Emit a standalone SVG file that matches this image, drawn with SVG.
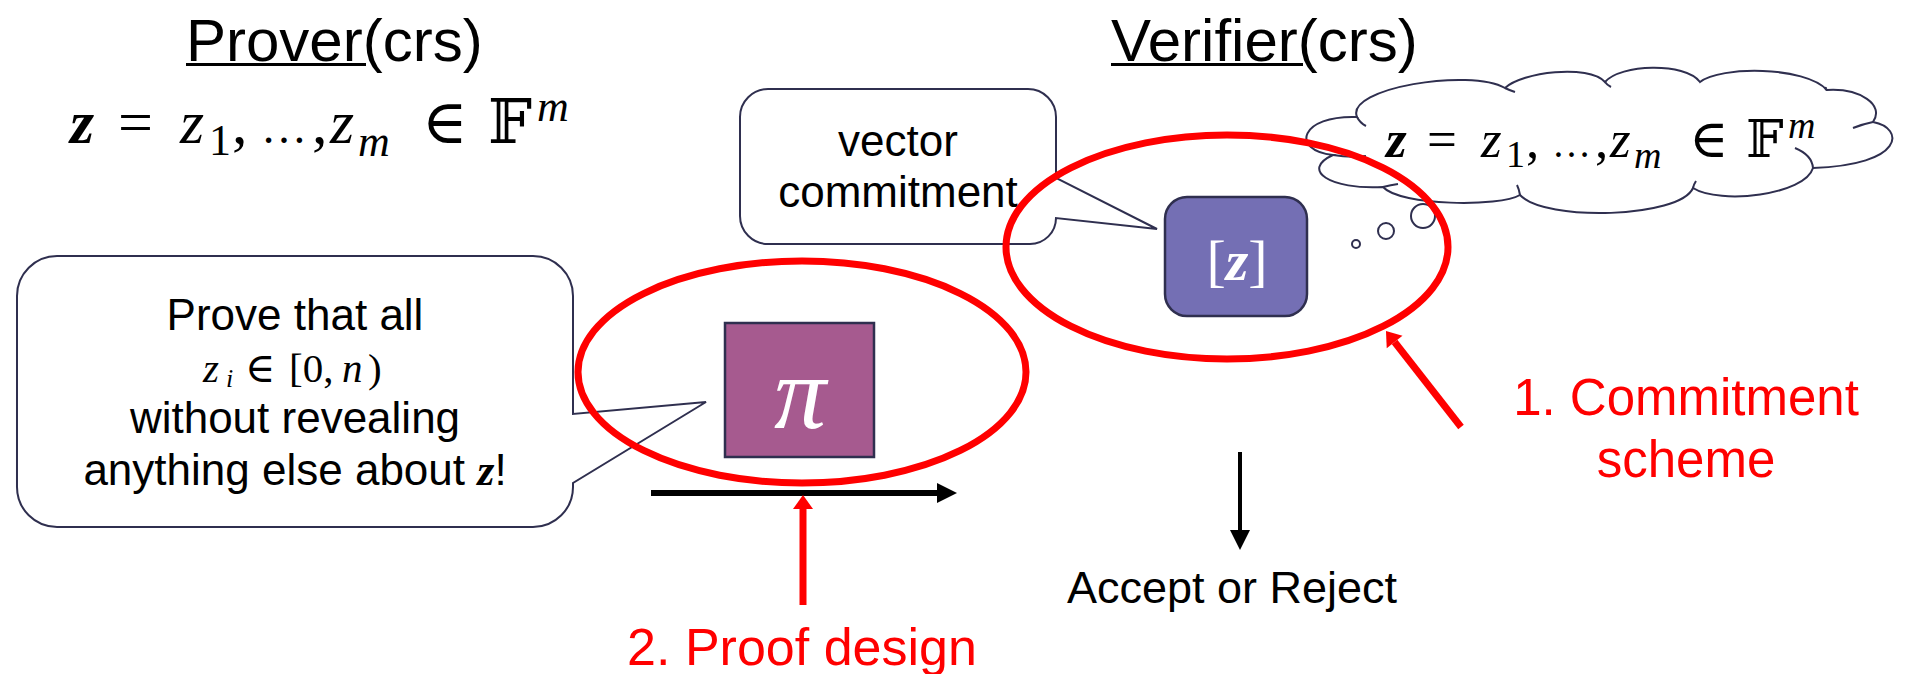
<svg xmlns="http://www.w3.org/2000/svg" width="1906" height="674" viewBox="0 0 1906 674">
<style>
.sans{font-family:"Liberation Sans",Arial,sans-serif;fill:#000}
.math{font-family:"Liberation Serif","DejaVu Serif",serif;font-style:italic;fill:#000}
.up{font-style:normal}
.red{fill:#ff0000}
.outline{fill:#fff;stroke:#2f2f4f;stroke-width:2}
.hook{fill:none;stroke:#2f2f4f;stroke-width:2}
.ring{fill:none;stroke:#ff0000;stroke-width:7}
</style>
<defs>
<marker id="hb" markerUnits="userSpaceOnUse" markerWidth="20" markerHeight="20" refX="0" refY="10" orient="auto" viewBox="0 0 20 20" overflow="visible"><path d="M0,0 L20,10 L0,20 Z" fill="#000"/></marker>
<marker id="hr" markerUnits="userSpaceOnUse" markerWidth="14" markerHeight="20" refX="0" refY="10" orient="auto" viewBox="0 0 14 20" overflow="visible"><path d="M0,0 L14,10 L0,20 Z" fill="#ff0000"/></marker>
</defs>

<g id="prover-title">
<text class="sans" x="186" y="61" font-size="60">Prover(crs)</text>
<rect x="186" y="63" width="180" height="3" fill="#000"/>
</g>
<g id="prover-vector">
<text class="math" font-size="62"><tspan x="70" y="143" font-weight="bold">z</tspan><tspan class="up" x="118" y="143">=</tspan><tspan x="180" y="143">z</tspan><tspan class="up" x="209" y="155" font-size="44">1</tspan><tspan class="up" x="232" y="143">,</tspan><tspan class="up" x="261" y="143" font-size="46">…</tspan><tspan class="up" x="312" y="143">,</tspan><tspan x="330" y="143">z</tspan><tspan x="358" y="156" font-size="44">m</tspan><tspan class="up" x="422" y="143">∈</tspan><tspan class="up" x="488" y="143">𝔽</tspan><tspan x="537" y="121" font-size="44">m</tspan></text>
</g>

<g id="verifier-title">
<text class="sans" x="1111" y="61" font-size="60">Verifier(crs)</text>
<rect x="1111" y="63" width="192" height="3" fill="#000"/>
</g>

<g id="callout-prove">
<path class="outline" d="M57,256 H533 A40,40 0 0 1 573,296 V414 L706,402 L573,483 V487 A40,40 0 0 1 533,527 H57 A40,40 0 0 1 17,487 V296 A40,40 0 0 1 57,256 Z"/>
<text class="sans" x="295" y="330" font-size="44" text-anchor="middle">Prove that all</text>
<text class="math" font-size="41"><tspan x="203" y="382">z</tspan><tspan x="226" y="387" font-size="26">i</tspan><tspan class="up" x="245" y="382">∈</tspan><tspan class="up" x="289" y="382">[0,</tspan><tspan x="342" y="382">n</tspan><tspan class="up" x="368" y="382">)</tspan></text>
<text class="sans" x="295" y="433" font-size="44" text-anchor="middle">without revealing</text>
<text class="sans" x="295" y="485" font-size="44" text-anchor="middle">anything else about <tspan font-family="Liberation Serif, DejaVu Serif, serif" font-style="italic" font-weight="bold">z</tspan>!</text>
</g>

<g id="callout-vector">
<path class="outline" d="M768,89 H1028 A28,28 0 0 1 1056,117 V178 L1157,229 L1056,218 A26,26 0 0 1 1030,244 H768 A28,28 0 0 1 740,216 V117 A28,28 0 0 1 768,89 Z"/>
<text class="sans" x="898" y="156" font-size="44" text-anchor="middle">vector</text>
<text class="sans" x="898" y="207" font-size="44" text-anchor="middle">commitment</text>
</g>

<g id="proof-box">
<rect x="725" y="323" width="149" height="134" fill="#a65a8f" stroke="#2f2f4f" stroke-width="2.5"/>
<text x="800" y="428" font-family="Liberation Serif, DejaVu Serif, serif" font-style="italic" font-size="104" fill="#fff" text-anchor="middle">π</text>
</g>

<g id="commit-box">
<rect x="1165" y="197" width="142" height="119" rx="22" ry="22" fill="#746fb4" stroke="#2f2f4f" stroke-width="2.5"/>
<text x="1237" y="280" font-family="Liberation Serif, DejaVu Serif, serif" font-size="58" fill="#fff" text-anchor="middle">[<tspan font-style="italic" font-weight="bold">z</tspan>]</text>
</g>

<g id="thought-cloud">
<ellipse class="outline" cx="1356" cy="244" rx="4" ry="4"/>
<ellipse class="outline" cx="1386" cy="231" rx="8" ry="8"/>
<ellipse class="outline" cx="1423" cy="216" rx="12" ry="12"/>
<path class="outline" d="M1357,117 C1345,88 1470,68 1505,88 C1522,72 1588,64 1605,82 C1620,64 1685,62 1700,82 C1720,66 1805,66 1827,90 C1860,88 1885,105 1873,122 C1905,128 1905,165 1813,168 C1805,195 1720,205 1693,188 C1680,218 1545,222 1520,195 C1500,207 1400,206 1383,187 C1330,190 1300,170 1333,155 C1290,150 1300,115 1357,117 Z"/>
<path class="hook" d="M1357,117 q3,6 9,9 M1333,155 Q1350,158 1366,156 M1383,187 q8,-2 15,-3 M1520,195 q-1,-6 -3,-10 M1693,188 q1,-4 3,-7 M1813,168 Q1812,155 1795,148 M1873,122 q-10,2 -20,6 M1605,82 q2,3 6,5 M1505,88 q4,2 10,4 M1827,90 q-2,0 -1,-3"/>
<text class="math" font-size="53"><tspan x="1386" y="157" font-weight="bold">z</tspan><tspan class="up" x="1427" y="157">=</tspan><tspan x="1481" y="157">z</tspan><tspan class="up" x="1506" y="167" font-size="38">1</tspan><tspan class="up" x="1526" y="157">,</tspan><tspan class="up" x="1552" y="157" font-size="39">…</tspan><tspan class="up" x="1595" y="157">,</tspan><tspan x="1610" y="157">z</tspan><tspan x="1634" y="168" font-size="38">m</tspan><tspan class="up" x="1689" y="157">∈</tspan><tspan class="up" x="1746" y="157">𝔽</tspan><tspan x="1788" y="138" font-size="38">m</tspan></text>
</g>

<g id="result">
<text class="sans" x="1232" y="603" font-size="45" text-anchor="middle">Accept or Reject</text>
</g>

<g id="label-commitment">
<text class="sans red" x="1686" y="415" font-size="51" text-anchor="middle">1. Commitment</text>
<text class="sans red" x="1686" y="477" font-size="51" text-anchor="middle">scheme</text>
</g>
<g id="label-proof">
<text class="sans red" x="802" y="665" font-size="52" text-anchor="middle">2. Proof design</text>
</g>

<g id="connectors">
<line x1="651" y1="493" x2="937" y2="493" stroke="#000" stroke-width="6" marker-end="url(#hb)"/>
<line x1="1240" y1="452" x2="1240" y2="530" stroke="#000" stroke-width="4" marker-end="url(#hb)"/>
<line x1="803" y1="605" x2="803" y2="509" stroke="#ff0000" stroke-width="7" marker-end="url(#hr)"/>
<line x1="1461" y1="427" x2="1394.6" y2="342" stroke="#ff0000" stroke-width="7" marker-end="url(#hr)"/>
</g>

<g id="highlights">
<ellipse class="ring" cx="802" cy="372" rx="224" ry="111"/>
<ellipse class="ring" cx="1227" cy="247" rx="221" ry="112"/>
</g>
</svg>
